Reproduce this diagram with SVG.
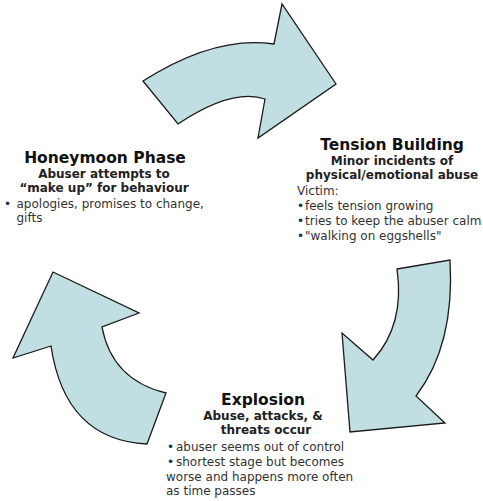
<svg xmlns="http://www.w3.org/2000/svg" width="483" height="501" viewBox="0 0 483 501">
<style>
.arrow{fill:#c1dfe3;stroke:#1a1a1a;stroke-width:1.3;stroke-linejoin:miter}
.h{font-family:"DejaVu Sans",Verdana,sans-serif;font-weight:bold;font-size:15.5px;fill:#111;text-anchor:middle}
.s{font-family:"DejaVu Sans",Verdana,sans-serif;font-weight:bold;font-size:12px;fill:#222;text-anchor:middle}
.b{font-family:"DejaVu Sans",Verdana,sans-serif;font-size:12px;fill:#333}
.dot{fill:#1c2c55}
</style>
<rect width="483" height="501" fill="#fff"/>
<g id="connectors">
<path class="arrow" d="M143,81 L178,124 Q232,88 265,99 L258,138 L336,84 L282,4 L274,44 Q215,35 143,81 Z"/>
<path class="arrow" d="M397,269 L450,260 Q455,345 416,396 L445,423 L350,432 L342,333 L373,360 Q405,325 397,269 Z"/>
<path class="arrow" d="M53,272 L139,313 L102,327 Q112,380 166,393 L147,444 Q65,440 51,346 L13,358 Z"/>
</g>
<g id="honeymoon">
<text class="h" x="105" y="163">Honeymoon Phase</text>
<text class="s" x="104" y="178">Abuser attempts to</text>
<text class="s" x="104" y="192">“make up” for behaviour</text>
<text class="b" x="4" y="208"><tspan class="dot">•</tspan><tspan x="16.5">apologies, promises to change,</tspan></text>
<text class="b" x="16.5" y="222">gifts</text>
</g>
<g id="tension">
<text class="h" x="392" y="150">Tension Building</text>
<text class="s" x="392" y="165">Minor incidents of</text>
<text class="s" x="392" y="179">physical/emotional abuse</text>
<text class="b" x="297" y="195">Victim:</text>
<text class="b" x="297" y="210"><tspan class="dot">•</tspan><tspan x="305">feels tension growing</tspan></text>
<text class="b" x="297" y="225"><tspan class="dot">•</tspan><tspan x="305">tries to keep the abuser calm</tspan></text>
<text class="b" x="297" y="240"><tspan class="dot">•</tspan><tspan x="305">"walking on eggshells"</tspan></text>
</g>
<g id="explosion">
<text class="h" x="263" y="405">Explosion</text>
<text class="s" x="263" y="420">Abuse, attacks, &amp;</text>
<text class="s" x="266" y="434">threats occur</text>
<text class="b" x="167" y="451"><tspan class="dot">•</tspan><tspan x="176">abuser seems out of control</tspan></text>
<text class="b" x="167" y="466"><tspan class="dot">•</tspan><tspan x="176">shortest stage but becomes</tspan></text>
<text class="b" x="166" y="481">worse and happens more often</text>
<text class="b" x="166" y="495">as time passes</text>
</g>
</svg>
